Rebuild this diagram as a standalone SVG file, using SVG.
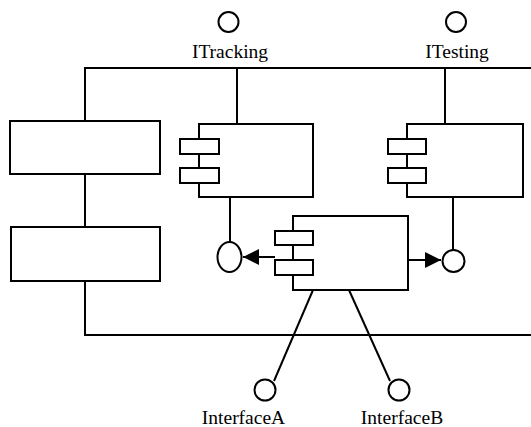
<svg xmlns="http://www.w3.org/2000/svg" width="531" height="427" viewBox="0 0 531 427">
<style>
.s{fill:none;stroke:#000;stroke-width:2}
.b{fill:#fff;stroke:#000;stroke-width:2}
.t{font-family:"Liberation Serif","Times New Roman",serif;font-size:19.5px;fill:#000;text-anchor:middle}
</style>
<defs>
<marker id="ah" viewBox="0 0 10 10" refX="10" refY="5" markerUnits="userSpaceOnUse" markerWidth="17" markerHeight="16" orient="auto">
<path d="M0,0 L10,5 L0,10 z" fill="#000"/>
</marker>
</defs>
<rect width="531" height="427" fill="#fff"/>
<g id="connectors">
<path class="s" d="M85,121 V68 H531"/>
<path class="s" d="M237,68 V124"/>
<path class="s" d="M445,68 V124"/>
<path class="s" d="M85,174 V227"/>
<path class="s" d="M85,281 V335 H531"/>
<path class="s" d="M230,197 V242"/>
<path class="s" d="M453,197 V250"/>
<path class="s" d="M275,257 H243" marker-end="url(#ah)"/>
<path class="s" d="M408,260 H441" marker-end="url(#ah)"/>
<path class="s" d="M313,290 L274,381"/>
<path class="s" d="M349,290 L390,381"/>
</g>
<g id="ITracking">
<circle class="b" cx="228.5" cy="22" r="10"/>
<text class="t" x="230" y="58">ITracking</text>
</g>
<g id="ITesting">
<circle class="b" cx="456" cy="22" r="10"/>
<text class="t" x="457" y="58">ITesting</text>
</g>
<g id="box1"><rect class="b" x="10" y="121" width="150" height="53"/></g>
<g id="box2"><rect class="b" x="11" y="227" width="149" height="54"/></g>
<g id="component1">
<rect class="b" x="199" y="124" width="114" height="73"/>
<rect class="b" x="180" y="139" width="39" height="15"/>
<rect class="b" x="180" y="168" width="39" height="15"/>
</g>
<g id="component2">
<rect class="b" x="407" y="124" width="116" height="73"/>
<rect class="b" x="388" y="139" width="38" height="15"/>
<rect class="b" x="388" y="168" width="38" height="15"/>
</g>
<g id="component3">
<rect class="b" x="293" y="216" width="115" height="74"/>
<rect class="b" x="275" y="231" width="38" height="14"/>
<rect class="b" x="275" y="260" width="38" height="15"/>
</g>
<g id="port1"><ellipse class="b" cx="229.5" cy="257" rx="12" ry="15"/></g>
<g id="port2"><circle class="b" cx="453.5" cy="261" r="11"/></g>
<g id="InterfaceA">
<circle class="b" cx="265" cy="390" r="10.5"/>
<text class="t" x="243.5" y="424">InterfaceA</text>
</g>
<g id="InterfaceB">
<circle class="b" cx="399" cy="390" r="10.5"/>
<text class="t" x="402" y="424">InterfaceB</text>
</g>
</svg>
